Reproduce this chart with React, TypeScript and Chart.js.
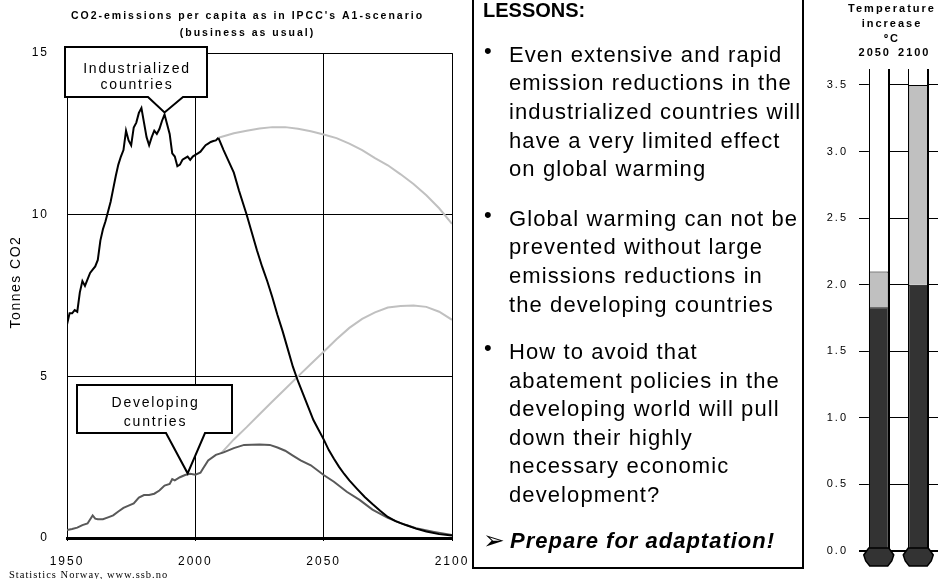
import React, { useEffect, useRef } from 'react';
import { Chart, registerables } from 'chart.js';

Chart.register(...registerables);

const FONT = "'Liberation Sans', Arial, Helvetica, sans-serif";

// ---------- Left chart data: CO2 emissions per capita (tonnes) ----------
const TITLE_LINES = ["CO2-emissions per capita as in IPCC's A1-scenario", '(business as usual)'];
const Y_AXIS_TITLE = 'Tonnes CO2';

const indHistYears = [
  1950, 1951, 1952, 1953, 1954, 1955, 1956, 1957, 1958, 1959,
  1960, 1961, 1962, 1963, 1964, 1965, 1966, 1967, 1968, 1969,
  1970, 1971, 1972, 1973, 1974, 1975, 1976, 1977, 1978, 1979,
  1980, 1981, 1982, 1983, 1984, 1985, 1986, 1987, 1988, 1989,
  1990, 1991, 1992, 1993, 1994, 1995, 1996, 1997, 1998, 1999,
  2000, 2001, 2002, 2003, 2004, 2005, 2006, 2007, 2008, 2009,
];
const indHistValues = [
  6.6, 6.95, 6.95, 7.05, 7.0, 7.6, 7.95, 7.8, 8.0, 8.2,
  8.3, 8.4, 8.6, 9.2, 9.55, 9.8, 10.1, 10.4, 10.8, 11.2,
  11.55, 11.8, 12.0, 12.6, 12.3, 12.15, 12.7, 12.85, 13.15, 13.3,
  12.85, 12.4, 12.15, 12.4, 12.6, 12.5, 12.65, 12.9, 13.1, 12.8,
  12.5, 11.9, 11.8, 11.5, 11.55, 11.7, 11.75, 11.8, 11.7, 11.8,
  11.85, 11.9, 11.95, 12.05, 12.15, 12.2, 12.25, 12.28, 12.3, 12.38,
];

const indBauYears = [2009, 2015, 2020, 2025, 2030, 2035, 2040, 2045, 2050, 2055, 2060, 2065, 2070, 2075, 2080, 2085, 2090, 2095, 2100];
const indBauValues = [12.38, 12.52, 12.6, 12.67, 12.71, 12.71, 12.66, 12.58, 12.48, 12.37, 12.2, 12.0, 11.75, 11.53, 11.25, 10.95, 10.6, 10.2, 9.72];

const indCutYears = [2009, 2011, 2013, 2015, 2017, 2020, 2022, 2024, 2026, 2028, 2030, 2032, 2034, 2036, 2038, 2040, 2042, 2044, 2046, 2048, 2050, 2052, 2054, 2056, 2058, 2060, 2063, 2066, 2069, 2072, 2075, 2078, 2082, 2086, 2090, 2095, 2100];
const indCutValues = [12.38, 12.0, 11.65, 11.3, 10.75, 10.0, 9.45, 8.9, 8.4, 7.95, 7.45, 6.9, 6.4, 5.85, 5.3, 4.85, 4.45, 4.05, 3.65, 3.35, 3.05, 2.72, 2.45, 2.2, 1.98, 1.78, 1.52, 1.27, 1.05, 0.84, 0.65, 0.52, 0.4, 0.29, 0.2, 0.12, 0.08];

const devYears = [1950, 1952, 1954, 1956, 1958, 1960, 1961, 1962, 1964, 1966, 1968, 1970, 1972, 1974, 1976, 1978, 1980, 1982, 1984, 1986, 1988, 1990, 1991, 1992, 1994, 1996, 1998, 2000, 2002, 2003, 2005, 2008, 2011, 2015, 2019, 2025, 2029, 2032, 2035, 2038, 2041, 2045, 2050, 2054, 2059, 2064, 2069, 2075, 2080, 2086, 2093, 2100];
const devValues = [0.25, 0.28, 0.32, 0.4, 0.45, 0.7, 0.6, 0.58, 0.58, 0.64, 0.7, 0.82, 0.93, 1.0, 1.07, 1.25, 1.33, 1.33, 1.37, 1.47, 1.62, 1.67, 1.82, 1.78, 1.88, 1.95, 1.99, 1.96, 2.02, 2.15, 2.4, 2.57, 2.65, 2.78, 2.88, 2.89, 2.88, 2.8, 2.7, 2.55, 2.4, 2.25, 1.95, 1.74, 1.43, 1.18, 0.88, 0.62, 0.46, 0.3, 0.19, 0.09];

const devBauYears = [2010, 2015, 2020, 2025, 2030, 2035, 2040, 2045, 2050, 2055, 2060, 2065, 2070, 2075, 2080, 2085, 2090, 2095, 2100];
const devBauValues = [2.62, 3.05, 3.43, 3.83, 4.22, 4.61, 5.0, 5.38, 5.76, 6.15, 6.5, 6.78, 6.98, 7.13, 7.18, 7.19, 7.15, 7.0, 6.75];

// ---------- Right chart data: temperature increase (deg C) ----------
const TEMP_TITLE = ['Temperature', 'increase', 'ºC'];
const tempYears = ['2050', '2100'];
const tempReduced = [1.83, 2.0];
const tempBau = [2.1, 3.5];

// ---------- Text panel ----------
const LESSONS_TITLE = 'LESSONS:';
const bullet1 = ['Even extensive and rapid', 'emission reductions in the', 'industrialized countries will', 'have a very limited effect', 'on global warming'];
const bullet2 = ['Global warming can not be', 'prevented without large', 'emissions reductions in', 'the developing countries'];
const bullet3 = ['How to avoid that', 'abatement policies in the', 'developing world will pull', 'down their highly', 'necessary economic', 'development?'];
const FINAL_LINE = 'Prepare for adaptation!';
const SOURCE = 'Statistics Norway, www.ssb.no';

const callouts = [
  { lines: ['Industrialized', 'countries'], year: 1988, value: 13.1, box: [65, 47, 207, 97], base: [148, 183], baselines: [73, 88.5], tipDy: -2 },
  { lines: ['Developing', 'cuntries'], year: 1997, value: 2.0, box: [77, 385, 232, 433], base: [166, 205], baselines: [406.5, 426], tipDy: 0 },
];

const pts = (xs: number[], ys: number[]) => xs.map((x, i) => ({ x, y: ys[i] }));

const spacerAxis = (width: number) => ({
  type: 'linear',
  position: 'right',
  display: true,
  afterFit: (s: any) => { s.width = width; },
  ticks: { display: false },
  grid: { display: false, drawTicks: false },
  border: { display: false },
});

const leftDecor = {
  id: 'leftDecor',
  beforeDraw(chart: any) {
    chart.ctx.letterSpacing = '2px';
  },
  afterDraw(chart: any) {
    const ctx = chart.ctx;
    const xs = chart.scales.x;
    const ys = chart.scales.y;
    // y axis title
    ctx.save();
    ctx.translate(16, 282);
    ctx.rotate(-Math.PI / 2);
    ctx.font = `14px ${FONT}`;
    ctx.letterSpacing = '1.5px';
    ctx.fillStyle = '#000';
    ctx.textAlign = 'center';
    ctx.textBaseline = 'middle';
    ctx.fillText(Y_AXIS_TITLE, 0, 0);
    ctx.restore();
    // callouts
    for (const c of callouts) {
      const [x0, y0, x1, y1] = c.box;
      const tx = xs.getPixelForValue(c.year);
      const ty = ys.getPixelForValue(c.value) + c.tipDy;
      ctx.save();
      ctx.beginPath();
      ctx.moveTo(x0, y0);
      ctx.lineTo(x1, y0);
      ctx.lineTo(x1, y1);
      ctx.lineTo(c.base[1], y1);
      ctx.lineTo(tx, ty);
      ctx.lineTo(c.base[0], y1);
      ctx.lineTo(x0, y1);
      ctx.closePath();
      ctx.fillStyle = '#fff';
      ctx.fill();
      ctx.lineWidth = 2;
      ctx.lineJoin = 'miter';
      ctx.strokeStyle = '#000';
      ctx.stroke();
      ctx.font = `14px ${FONT}`;
      ctx.letterSpacing = '1.8px';
      ctx.fillStyle = '#000';
      ctx.textAlign = 'center';
      ctx.textBaseline = 'alphabetic';
      const cx = (x0 + x1) / 2 + 1;
      c.lines.forEach((t, i) => ctx.fillText(t, cx, c.baselines[i]));
      ctx.restore();
    }
  },
};

const thermoDecor = {
  id: 'thermoDecor',
  beforeDraw(chart: any) {
    chart.ctx.letterSpacing = '2px';
  },
  beforeDatasetsDraw(chart: any) {
    const ctx = chart.ctx;
    const { top, bottom } = chart.chartArea;
    const meta = chart.getDatasetMeta(0);
    ctx.save();
    ctx.fillStyle = '#fff';
    meta.data.forEach((el: any) => {
      const half = el.width / 2;
      ctx.fillRect(el.x - half, top, el.width, bottom - top - 1);
    });
    ctx.restore();
  },
  afterDatasetsDraw(chart: any) {
    const ctx = chart.ctx;
    const { top, bottom } = chart.chartArea;
    const meta = chart.getDatasetMeta(0);
    ctx.save();
    ctx.strokeStyle = '#000';
    meta.data.forEach((el: any) => {
      const half = el.width / 2;
      ctx.lineWidth = 1;
      ctx.beginPath();
      ctx.moveTo(Math.round(el.x - half) + 0.5, top);
      ctx.lineTo(Math.round(el.x - half) + 0.5, bottom);
      ctx.stroke();
      ctx.lineWidth = 2;
      ctx.beginPath();
      ctx.moveTo(Math.round(el.x + half), top);
      ctx.lineTo(Math.round(el.x + half), bottom);
      ctx.stroke();
      // bulb
      const cx = el.x;
      const y0 = bottom - 3;
      ctx.beginPath();
      ctx.moveTo(cx - 10, y0);
      ctx.lineTo(cx + 10, y0);
      ctx.lineTo(cx + 15, y0 + 7);
      ctx.lineTo(cx + 13, y0 + 13);
      ctx.lineTo(cx + 9, y0 + 18);
      ctx.lineTo(cx - 9, y0 + 18);
      ctx.lineTo(cx - 13, y0 + 13);
      ctx.lineTo(cx - 15, y0 + 7);
      ctx.closePath();
      ctx.fillStyle = '#333333';
      ctx.fill();
      ctx.lineWidth = 1.5;
      ctx.stroke();
    });
    ctx.restore();
  },
};

export default function App() {
  const leftRef = useRef<HTMLCanvasElement>(null);
  const rightRef = useRef<HTMLCanvasElement>(null);

  useEffect(() => {
    const lineCommon = { borderWidth: 2, pointRadius: 0, fill: false, tension: 0 };
    const left = new Chart(leftRef.current as HTMLCanvasElement, {
      type: 'line',
      data: {
        datasets: [
          { ...lineCommon, label: 'Industrialized countries, business as usual', data: pts(indBauYears, indBauValues), borderColor: '#c0c0c0', order: 5 },
          { ...lineCommon, label: 'Developing countries, business as usual', data: pts(devBauYears, devBauValues), borderColor: '#c0c0c0', order: 4 },
          { ...lineCommon, label: 'Developing countries', data: pts(devYears, devValues), borderColor: '#595959', order: 3 },
          { ...lineCommon, label: 'Industrialized countries, reductions', data: pts(indCutYears, indCutValues), borderColor: '#000000', order: 2 },
          { ...lineCommon, label: 'Industrialized countries', data: pts(indHistYears, indHistValues), borderColor: '#000000', order: 1 },
        ],
      },
      options: {
        responsive: false,
        animation: false,
        layout: { padding: 0 },
        plugins: {
          legend: { display: false },
          tooltip: { enabled: false },
          title: {
            display: true,
            text: TITLE_LINES,
            color: '#000',
            font: { family: FONT, size: 10.5, weight: 'bold', lineHeight: 1.6 },
            padding: { top: 7.5, bottom: 12 },
          },
        },
        scales: {
          x: {
            type: 'linear',
            min: 1950,
            max: 2100,
            afterFit: (s: any) => { s.height = 41; },
            ticks: { stepSize: 50, color: '#000', font: { family: FONT, size: 12 }, padding: 13, maxRotation: 0, autoSkip: false, callback: (v: any) => String(v) },
            grid: { color: '#000', lineWidth: 1, drawTicks: true, tickLength: 3, tickColor: '#000' },
            border: { display: true, color: '#000', width: 3 },
          },
          y: {
            min: 0,
            max: 15,
            afterFit: (s: any) => { s.width = 67; },
            ticks: { stepSize: 5, color: '#000', font: { family: FONT, size: 12 }, padding: 18 },
            grid: { color: '#000', lineWidth: 1, drawTicks: false },
            border: { display: true, color: '#000', width: 1 },
          },
          ySpacer: spacerAxis(43),
        },
      } as any,
      plugins: [leftDecor],
    });

    const right = new Chart(rightRef.current as HTMLCanvasElement, {
      type: 'bar',
      data: {
        labels: tempYears,
        datasets: [
          { label: 'With emission reductions', data: tempReduced, backgroundColor: '#333333', borderColor: '#000', borderWidth: 1, barPercentage: 0.5, categoryPercentage: 1, grouped: false, order: 1 } as any,
          { label: 'Business as usual', data: tempReduced.map((lo, i) => [lo, tempBau[i]]), backgroundColor: '#c0c0c0', borderColor: '#000', borderWidth: 1, barPercentage: 0.5, categoryPercentage: 1, grouped: false, order: 2 } as any,
        ],
      },
      options: {
        responsive: false,
        animation: false,
        layout: { padding: { left: 0, right: 0, top: 0, bottom: 28 } },
        plugins: {
          legend: { display: false },
          tooltip: { enabled: false },
          title: {
            display: true,
            text: TEMP_TITLE,
            color: '#000',
            font: { family: FONT, size: 11, weight: 'bold', lineHeight: 15 / 11 },
            padding: { top: 1.5, bottom: 0 },
          },
        },
        scales: {
          x: {
            position: 'top',
            afterFit: (s: any) => { s.height = 22.5; },
            grid: { display: false, drawTicks: false },
            border: { display: false },
            ticks: { color: '#000', font: { family: FONT, size: 11, weight: 'bold' }, padding: 9.4, labelOffset: -4 },
          },
          y: {
            min: 0,
            max: 3.62,
            afterFit: (s: any) => { s.width = 53; },
            afterBuildTicks: (s: any) => { s.ticks = s.ticks.filter((t: any) => Math.abs(t.value * 2 - Math.round(t.value * 2)) < 1e-6); },
            ticks: { stepSize: 0.5, includeBounds: false, color: '#000', font: { family: FONT, size: 11 }, padding: 11, callback: (v: any) => Number(v).toFixed(1) },
            grid: { color: '#000', lineWidth: (c: any) => (c.tick && c.tick.value === 0 ? 2 : 1), drawTicks: false },
            border: { display: false },
          },
          ySpacer: spacerAxis(40),
        },
      } as any,
      plugins: [thermoDecor],
    });

    return () => {
      left.destroy();
      right.destroy();
    };
  }, []);

  const lineStyle: React.CSSProperties = { whiteSpace: 'nowrap', height: 28.6 };
  const para = (lines: string[], top: number) => (
    <React.Fragment>
      <div style={{ position: 'absolute', left: 484, top: top - 4, fontSize: 22, lineHeight: '28.6px' }}>•</div>
      <div style={{ position: 'absolute', left: 509, top, fontSize: 22, lineHeight: '28.6px', letterSpacing: '1.1px' }}>
        {lines.map((l, i) => (
          <div key={i} style={lineStyle}>{l}</div>
        ))}
      </div>
    </React.Fragment>
  );

  return (
    <div style={{ position: 'absolute', left: 0, top: 0, width: 938, height: 579, overflow: 'hidden', background: '#fff', fontFamily: FONT, color: '#000' }}>
      <div style={{ position: 'absolute', left: 0, top: 0, width: 495, height: 579, zIndex: 1 }}>
        <canvas ref={leftRef} width={495} height={579} style={{ display: 'block' }} />
      </div>
      <div style={{ position: 'absolute', left: 806, top: 0, width: 172, height: 579, zIndex: 1 }}>
        <canvas ref={rightRef} width={172} height={579} style={{ display: 'block' }} />
      </div>
      <div style={{ position: 'absolute', left: 472, top: -20, width: 332, height: 589, boxSizing: 'border-box', border: '2px solid #000', background: '#fff', zIndex: 2 }} />
      <div style={{ position: 'absolute', left: 0, top: 0, width: 938, height: 579, zIndex: 3 }}>
        <div style={{ position: 'absolute', left: 483, top: 0, fontSize: 20, fontWeight: 'bold', lineHeight: '20px', whiteSpace: 'nowrap' }}>{LESSONS_TITLE}</div>
        {para(bullet1, 40.8)}
        {para(bullet2, 204.8)}
        {para(bullet3, 338.1)}
        <div style={{ position: 'absolute', left: 483, top: 526, fontSize: 26, lineHeight: '28.6px', fontFamily: "'DejaVu Sans', sans-serif" }}>➢</div>
        <div style={{ position: 'absolute', left: 510, top: 527.4, fontSize: 22, lineHeight: '28.6px', fontWeight: 'bold', fontStyle: 'italic', letterSpacing: '1px', whiteSpace: 'nowrap' }}>{FINAL_LINE}</div>
        <div style={{ position: 'absolute', left: 9, top: 569.5, fontSize: 10.5, lineHeight: '10.5px', fontFamily: "'Liberation Serif', 'Times New Roman', serif", letterSpacing: '1px', whiteSpace: 'nowrap' }}>{SOURCE}</div>
      </div>
    </div>
  );
}
